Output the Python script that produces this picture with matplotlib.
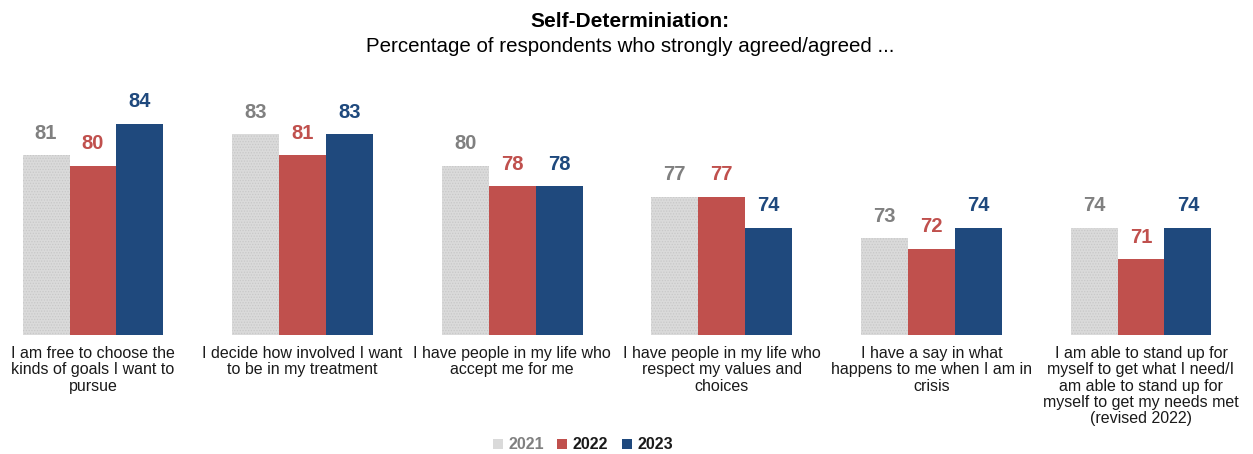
import numpy as np
import matplotlib.pyplot as plt
from matplotlib.lines import Line2D

plt.rcParams['font.family'] = ['Liberation Sans', 'DejaVu Sans']
plt.rcParams['hatch.linewidth'] = 0.6

categories = [
    "I am free to choose the\nkinds of goals I want to\npursue",
    "I decide how involved I want\nto be in my treatment",
    "I have people in my life who\naccept me for me",
    "I have people in my life who\nrespect my values and\nchoices",
    "I have a say in what\nhappens to me when I am in\ncrisis",
    "I am able to stand up for\nmyself to get what I need/I\nam able to stand up for\nmyself to get my needs met\n(revised 2022)",
]
years = ["2021", "2022", "2023"]
vals_2021 = [81, 83, 80, 77, 73, 74]
vals_2022 = [80, 81, 78, 77, 72, 71]
vals_2023 = [84, 83, 78, 74, 74, 74]

bar_colors = ["#DADADA", "#C0504D", "#1F497D"]
label_colors = ["#808080", "#C0504D", "#1F497D"]

fig = plt.figure(figsize=(12.53, 4.54), dpi=100)
ax = fig.add_axes([0, 1 - 335 / 454, 1, 263 / 454])

x = np.arange(len(categories))
w = 0.224
series = [vals_2021, vals_2022, vals_2023]
for i, vals in enumerate(series):
    pos = x + (i - 1) * w
    if i == 0:
        bars = ax.bar(pos, vals, w, color=bar_colors[i], hatch='......',
                      edgecolor='#C8C8C8', linewidth=0)
    else:
        bars = ax.bar(pos, vals, w, color=bar_colors[i], linewidth=0)
    for b, v in zip(bars, vals):
        ax.annotate(str(v), (b.get_x() + b.get_width() / 2, v),
                    xytext=(0, 9), textcoords='offset points',
                    ha='center', va='bottom', fontsize=14.5,
                    fontweight='bold', color=label_colors[i])

ax.set_ylim(63.7, 89.0)
ax.set_xlim(-93 / 209.6, (1253 - 93) / 209.6)
ax.set_xticks(x)
ax.set_xticklabels(categories, fontsize=11.5, color='#1a1a1a', linespacing=1.1)
ax.tick_params(axis='x', length=0, pad=8)
ax.set_yticks([])
for s in ax.spines.values():
    s.set_visible(False)

fig.text(0.503, 0.952, "Self-Determiniation:", ha='center', va='center',
         fontsize=15, fontweight='bold')
fig.text(0.503, 0.898, "Percentage of respondents who strongly agreed/agreed ...",
         ha='center', va='center', fontsize=14.8)

handles = [Line2D([], [], marker='s', linestyle='', markersize=7,
                  markerfacecolor=c, markeredgewidth=0) for c in bar_colors]
leg = fig.legend(handles, years, loc='center', bbox_to_anchor=(0.465, 0.02),
                 ncol=3, frameon=False, handlelength=0.7, handletextpad=0.3,
                 columnspacing=0.8, prop={'weight': 'bold', 'size': 11.5})
for t, c in zip(leg.get_texts(), ["#808080", "#1a1a1a", "#1a1a1a"]):
    t.set_color(c)

fig.savefig("out.png", dpi=100)
